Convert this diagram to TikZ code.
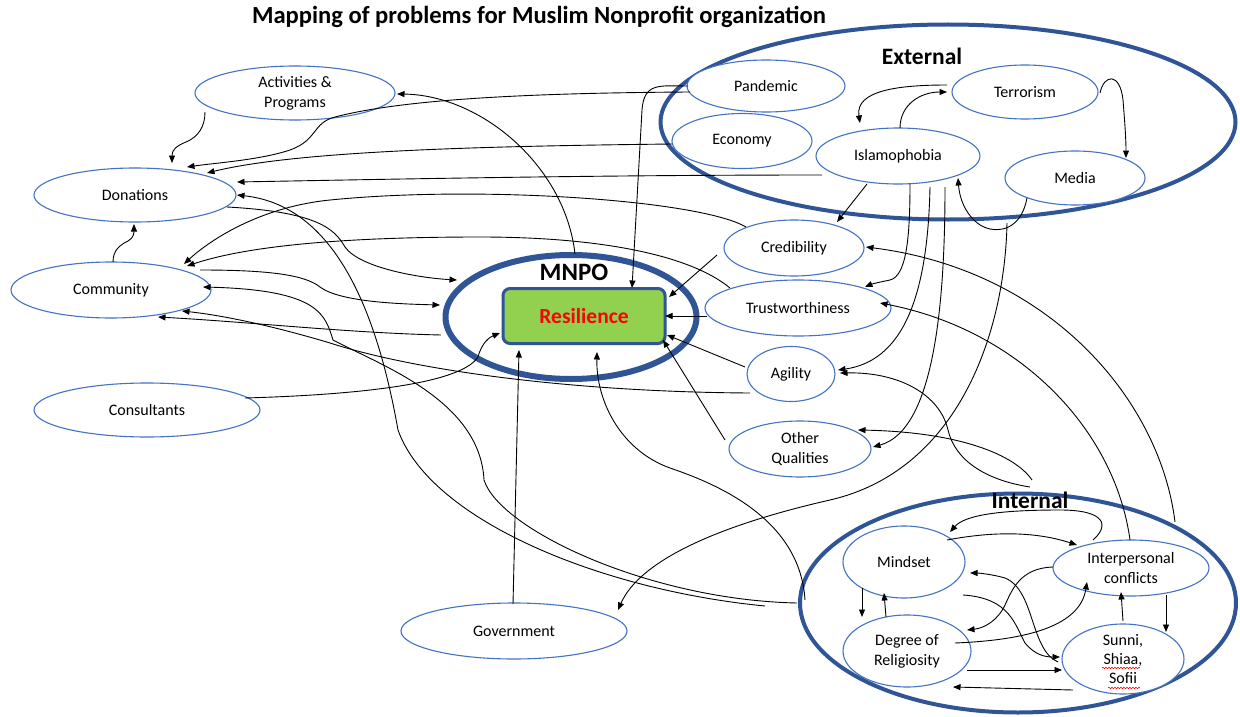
\documentclass[tikz,border=0pt]{standalone}
\usepackage{fontspec}
\setmainfont{Carlito}
\usetikzlibrary{shapes.geometric,arrows.meta,calc,decorations.pathmorphing}
\definecolor{nodeblue}{HTML}{4472C4}
\definecolor{frameblue}{HTML}{2F5597}
\definecolor{resgreen}{HTML}{92D050}
\pgfdeclarelayer{back}
\pgfdeclarelayer{links}
\pgfsetlayers{back,main,links}
\begin{document}
\begin{tikzpicture}[x=1pt,y=-1pt,
  item/.style={ellipse, draw=nodeblue, line width=1.1pt, fill=white, inner sep=0pt,
    align=center, font=\fontsize{16}{20}\selectfont},
  group/.style={ellipse, draw=frameblue, line width=4pt, inner sep=0pt},
  link/.style={line width=0.9pt, -{Triangle[length=7.5pt,width=6pt]}},
  heading/.style={font=\bfseries\fontsize{23.5}{28}\selectfont},
  squiggle/.style={red, line width=0.6pt, decorate,
    decoration={snake, amplitude=0.8pt, segment length=3pt}}]

% frame and the three grouping ellipses
\begin{pgfonlayer}{back}
\fill[white] (0,0) rectangle (1240,717);
\node[group, minimum width=575pt, minimum height=195pt] (ext) at (948,122) {};
\node[group, minimum width=436pt, minimum height=219pt] (int) at (1018,603) {};
\node[group, line width=6pt, minimum width=251pt, minimum height=124pt] (mnpo) at (571,317) {};
\end{pgfonlayer}
\useasboundingbox (0,0) rectangle (1240,717);

% labels
\node[font=\bfseries\fontsize{24.6}{28}\selectfont] (title) at (539,17)
  {Mapping of problems for Muslim Nonprofit organization};
\node[heading] (extlbl) at (922,56) {External};
\node[heading] (intlbl) at (1030,500) {Internal};
\node[font=\bfseries\fontsize{25}{30}\selectfont] (mnpolbl) at (574,272) {MNPO};

% core
\node[draw=frameblue, line width=3pt, fill=resgreen, rounded corners=7pt,
  minimum width=162pt, minimum height=55pt, text=red,
  font=\bfseries\fontsize{21.5}{26}\selectfont] (res) at (584,316) {Resilience};

% left-hand factors
\node[item, minimum width=200pt, minimum height=54pt] (act) at (295,93) {Activities \&\\Programs};
\node[item, minimum width=202pt, minimum height=54pt] (don) at (135,195) {Donations};
\node[item, minimum width=200pt, minimum height=56pt] (com) at (111,290) {Community};
\node[item, minimum width=226pt, minimum height=54pt] (con) at (147,410) {Consultants};
\node[item, minimum width=226pt, minimum height=56pt] (gov) at (514,631) {Government};

% qualities
\node[item, minimum width=140pt, minimum height=56pt] (cred) at (794,248) {Credibility};
\node[item, minimum width=186pt, minimum height=56pt] (trust) at (798,308) {Trustworthiness};
\node[item, minimum width=88pt, minimum height=55pt] (agi) at (791,374) {Agility};
\node[item, minimum width=142pt, minimum height=56pt] (oth) at (800,449) {Other\\Qualities};

% external factors
\node[item, minimum width=158pt, minimum height=52pt] (pan) at (766,86) {Pandemic};
\node[item, minimum width=140pt, minimum height=55pt] (eco) at (742,141) {Economy};
\node[item, minimum width=146pt, minimum height=54pt] (ter) at (1025,92) {Terrorism};
\node[item, minimum width=164pt, minimum height=56pt] (isl) at (898,156) {Islamophobia};
\node[item, minimum width=140pt, minimum height=54pt] (med) at (1075,178) {Media};

% internal factors
\node[item, minimum width=122pt, minimum height=72pt] (mind) at (904,562) {Mindset};
\node[item, minimum width=156pt, minimum height=56pt] (ipc) at (1131,568) {Interpersonal\\conflicts};
\node[item, minimum width=128pt, minimum height=72pt] (deg) at (907,651) {Degree of\\Religiosity};
\node[item, inner sep=-4pt, minimum width=122pt, minimum height=70pt,
  font=\fontsize{16}{19}\selectfont] (sun) at (1123,659) {Sunni,\\Shiaa,\\Sofii};
\draw[squiggle] ($(sun)+(-21,9)$) -- ($(sun)+(17,9)$);
\draw[squiggle] ($(sun)+(-15,29)$) -- ($(sun)+(17,29)$);

\begin{pgfonlayer}{links}
% into Donations
\draw[link] ($(act)+(-90,19)$) .. controls (205,127) and (198,137) .. (186,142)
  .. controls (176,146) and (172,150) .. ($(don)+(37,-32)$);
\draw[link] ($(pan)+(-76,6)$) .. controls (520,93) and (400,100) .. (335,117)
  .. controls (312,123) and (318,140) .. (290,150)
  .. controls (260,160) and (215,163) .. ($(don)+(52,-28)$);
\draw[link] ($(eco)+(-70,3)$) .. controls (500,146) and (300,150) .. ($(don)+(72,-22)$);
\draw[link] ($(isl)+(-76,19)$) .. controls (600,175) and (400,179) .. ($(don)+(102,-13)$);
\draw[link] ($(int)+(-253,3)$) .. controls (600,590) and (430,520) .. (398,430)
  .. controls (375,300) and (330,205) .. ($(don)+(102,0)$);
\draw[link] ($(com)+(2,-28)$) .. controls (113,250) and (120,245) .. (128,241)
  .. controls (134,238) and (134,232) .. ($(don)+(-1,29)$);

% into Community
\draw[link] ($(int)+(-221,0)$) .. controls (650,600) and (500,530) .. (484,480)
  .. controls (480,400) and (380,365) .. (333,340)
  .. controls (325,315) and (320,290) .. ($(com)+(92,-3)$);
\draw[link] ($(mnpo)+(-130,18)$) .. controls (350,333) and (250,322) .. ($(com)+(47,27)$);
\draw[link] ($(agi)+(-41,19)$) .. controls (580,392) and (420,372) .. (330,343)
  .. controls (270,325) and (220,315) .. ($(com)+(71,21)$);
\draw[link] ($(cred)+(-48,-21)$) .. controls (700,200) and (480,185) .. (330,200)
  .. controls (260,207) and (210,240) .. ($(com)+(73,-26)$);
\draw[link] ($(trust)+(-68,-20)$) .. controls (690,255) and (600,237) .. (480,237)
  .. controls (350,237) and (250,245) .. ($(com)+(76,-24)$);

% into MNPO and Resilience
\draw[link] ($(don)+(92,12)$) .. controls (320,212) and (335,230) .. (345,247)
  .. controls (360,268) and (420,278) .. ($(mnpo)+(-114,-37)$);
\draw[link] ($(com)+(89,-20)$) .. controls (270,270) and (305,275) .. (320,287)
  .. controls (340,302) and (400,304) .. ($(mnpo)+(-131,-12)$);
\draw[link] ($(mnpo)+(4,-63)$) .. controls (565,165) and (480,95) .. ($(act)+(102,1)$);
\draw[link] ($(pan)+(-78,0)$) .. controls (660,86) and (644,82) .. (642,110)
  -- ($(res)+(48,-28)$);
\draw[link] ($(cred)+(-77,7)$) -- ($(res)+(85,-19)$);
\draw[link] ($(trust)+(-91,8)$) -- ($(res)+(81,0)$);
\draw[link] ($(agi)+(-46,-7)$) -- ($(res)+(83,19)$);
\draw[link] ($(oth)+(-75,-9)$) -- ($(res)+(79,24)$);
\draw[link] ($(con)+(98,-12)$) .. controls (350,395) and (460,385) .. (478,357)
  .. controls (482,342) and (490,337) .. ($(res)+(-84,17)$);
\draw[link] ($(gov)+(-1,-27)$) -- ($(res)+(-65,34)$);
\draw[link] ($(int)+(-213,-3)$) .. controls (800,520) and (720,485) .. (670,468)
  .. controls (620,450) and (596,400) .. ($(res)+(13,36)$);

% among the external factors
\draw[link] ($(isl)+(2,-28)$) .. controls (900,105) and (920,92) .. ($(ter)+(-78,0)$);
\draw[link] ($(ter)+(-78,-7)$) .. controls (900,85) and (855,90) .. ($(isl)+(-38,-33)$);
\draw[link] ($(ter)+(75,1)$) .. controls (1104,74) and (1120,72) .. (1123,100)
  .. controls (1125,125) and (1126,140) .. ($(med)+(51,-20)$);
\draw[link] ($(med)+(-48,20)$) .. controls (1022,225) and (1005,232) .. (990,229)
  .. controls (972,225) and (960,205) .. ($(isl)+(60,22)$);
\draw[link] ($(med)+(-68,45)$) .. controls (1005,330) and (960,470) .. (830,500)
  .. controls (720,525) and (640,560) .. ($(gov)+(104,-21)$);

% Islamophobia towards the qualities
\draw[link] ($(isl)+(-31,28)$) -- ($(cred)+(43,-26)$);
\draw[link] ($(isl)+(12,28)$) .. controls (910,240) and (906,276) .. (890,280)
  .. controls (880,282) and (872,284) .. ($(trust)+(67,-21)$);
\draw[link] ($(isl)+(32,31)$) .. controls (928,280) and (910,360) .. ($(agi)+(47,-4)$);
\draw[link] ($(isl)+(47,31)$) .. controls (945,300) and (935,430) .. ($(oth)+(73,-2)$);

% internal factors towards the qualities
\draw[link] ($(int)+(157,-81)$) .. controls (1160,400) and (1050,270) .. ($(cred)+(72,-1)$);
\draw[link] ($(ipc)+(-1,-28)$) .. controls (1115,430) and (1020,330) .. ($(trust)+(82,-5)$);
\draw[link] ($(int)+(12,-116)$) .. controls (985,480) and (955,460) .. (948,430)
  .. controls (940,395) and (900,372) .. ($(agi)+(49,-1)$);
\draw[link] ($(int)+(14,-123)$) .. controls (1015,455) and (960,432) .. ($(oth)+(58,-19)$);

% inside the internal group
\draw[link] ($(ipc)+(-38,-28)$) .. controls (1110,525) and (1105,510) .. (1060,510)
  .. controls (1000,510) and (965,515) .. ($(mind)+(46,-30)$);
\draw[link] ($(mind)+(43,-22)$) .. controls (1000,530) and (1040,533) .. ($(ipc)+(-54,-23)$);
\draw[link] ($(mind)+(-42,26)$) -- ($(deg)+(-45,-34)$);
\draw[link] ($(deg)+(-21,-34)$) -- ($(mind)+(-20,31)$);
\draw[link] ($(ipc)+(-78,-1)$) .. controls (1020,568) and (1012,590) .. (1005,605)
  .. controls (998,620) and (985,628) .. ($(deg)+(60,-21)$);
\draw[link] ($(deg)+(48,-8)$) .. controls (1030,640) and (1080,625) .. ($(ipc)+(-44,14)$);
\draw[link] ($(sun)+(-65,3)$) .. controls (1030,650) and (1035,590) .. (1005,578)
  .. controls (995,575) and (980,573) .. ($(mind)+(66,11)$);
\draw[link] ($(mind)+(59,33)$) .. controls (1010,598) and (1015,625) .. (1025,643)
  .. controls (1035,655) and (1045,657) .. ($(sun)+(-63,-2)$);
\draw[link] ($(sun)+(0,-38)$) -- ($(ipc)+(-10,24)$);
\draw[link] ($(ipc)+(35,27)$) -- ($(sun)+(43,-27)$);
\draw[link] ($(deg)+(60,19)$) -- ($(sun)+(-61,11)$);
\draw[link] ($(sun)+(-50,31)$) -- ($(deg)+(46,36)$);
\end{pgfonlayer}
\end{tikzpicture}
\end{document}
